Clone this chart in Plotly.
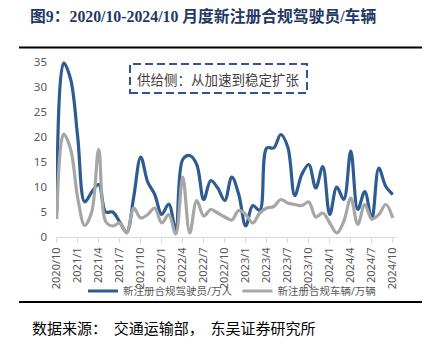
import plotly.graph_objects as go

# Month labels (2020/10 .. 2024/10), 49 months
months = []
y, m = 2020, 10
for _ in range(49):
    months.append(f"{y}/{m}")
    m += 1
    if m > 12:
        m = 1
        y += 1

drivers = [5, 34.8, 31.5, 20, 7, 9, 10.5, 5, 5, 3,
           1, 8, 16, 11, 8.5, 4.5, 6.6, 1.5, 15.5, 16.3,
           14.5, 7.5, 11.3, 9.8, 7.3, 12, 8.5, 2.2, 6.3, 5.3,
           17.8, 17.8, 20.5, 18, 8.3, 12.5, 14.5, 9.8, 14.1, 4.5,
           10, 7.5, 17.2, 5.5, 9.1, 3.6, 13.8, 10.1, 8.5]
vehicles = [3.6, 20.6, 17.5, 7.8, 2.3, 5, 17.5, 3.1, 2.2, 2.8,
            0.8, 5.8, 3.8, 4.5, 5.8, 2.8, 4.5, 0.6, 12, 0.8,
            7.3, 4.2, 5.5, 4.8, 4, 3.4, 5.3, 4.5, 2.8, 4.8,
            5.8, 6.1, 7.5, 6.8, 6.5, 6.3, 7, 4, 4.8, 2.8,
            0.8, 3.1, 7.8, 2.5, 6.5, 3.6, 4.5, 6.5, 3.8]

tick_idx = list(range(0, 49, 3))
tick_text = [months[i] for i in tick_idx]
y_ticks = [0, 5, 10, 15, 20, 25, 30, 35]

name_drivers = "新注册合规驾驶员/万人"
name_vehicles = "新注册合规车辆/万辆"
title_text = "图9：2020/10-2024/10 月度新注册合规驾驶员/车辆"
box_text = "供给侧：从加速到稳定扩张"
source_text = "数据来源：  交通运输部，  东吴证券研究所"

W, H = 433, 344
L, R, T, B = 56, 36, 57, 107
pw = W - L - R
ph = H - T - B
y0_px = T + ph  # pixel of paper y=0


def px(xp):
    return (xp - L) / pw


def py(yp):
    return (y0_px - yp) / ph


x_idx = list(range(len(months)))

fig = go.Figure()
fig.add_trace(go.Scatter(
    x=x_idx, y=drivers, name=name_drivers, mode="lines",
    line=dict(color="#2E5B91", width=3.2, shape="spline", smoothing=1.0),
))
fig.add_trace(go.Scatter(
    x=x_idx, y=vehicles, name=name_vehicles, mode="lines",
    line=dict(color="#A6A6A6", width=3.2, shape="spline", smoothing=1.0),
))

font_main = "Noto Sans, Noto Sans CJK SC, sans-serif"

fig.update_layout(
    width=W, height=H,
    margin=dict(l=L, r=R, t=T, b=B, autoexpand=False),
    paper_bgcolor="white", plot_bgcolor="white",
    font=dict(family=font_main, color="#595959", size=11),
    title=dict(
        text="<b>" + title_text + "</b>",
        x=30 / W, xanchor="left", y=1 - 16 / H, yanchor="middle",
        xref="container", yref="container",
        font=dict(family="Liberation Serif, Noto Sans CJK SC, serif", size=15.8, color="#1F3864"),
    ),
    xaxis=dict(
        range=[-0.1, 48.6], tickmode="array", tickvals=tick_idx, ticktext=tick_text,
        tickangle=-90, showgrid=False, zeroline=False,
        showline=True, linecolor="#D9D9D9", linewidth=1,
        ticks="outside", ticklen=5, tickcolor="#D9D9D9",
        tickfont=dict(size=11, color="#595959", family=font_main),
    ),
    yaxis=dict(
        range=[0, 36], tickmode="array", tickvals=y_ticks,
        showgrid=False, zeroline=False, showline=False, ticks="",
        ticklabelstandoff=8,
        tickfont=dict(size=11.5, color="#595959", family=font_main),
    ),
    legend=dict(
        orientation="h", x=px(232), xanchor="center", y=py(291), yanchor="middle",
        font=dict(size=10.5, color="#595959", family=font_main),
        itemwidth=30, bgcolor="rgba(0,0,0,0)",
    ),
    showlegend=True,
)

# dashed annotation box
fig.add_shape(type="rect", xref="paper", yref="paper",
              x0=px(130), x1=px(307), y0=py(93), y1=py(64),
              line=dict(color="#2F5597", width=2, dash="8px,4px"),
              fillcolor="rgba(0,0,0,0)")
fig.add_annotation(xref="paper", yref="paper", x=px(218.5), y=py(78.5),
                   text=box_text, showarrow=False, xanchor="center", yanchor="middle",
                   font=dict(size=13.5, color="#404040", family="Noto Sans CJK SC, sans-serif"))

# rules under title and above source
fig.add_shape(type="line", xref="paper", yref="paper",
              x0=px(19), x1=px(422), y0=py(47.5), y1=py(47.5),
              line=dict(color="black", width=2))
fig.add_shape(type="line", xref="paper", yref="paper",
              x0=px(19), x1=px(422), y0=py(302), y1=py(302),
              line=dict(color="black", width=2))

fig.add_annotation(xref="paper", yref="paper", x=px(30), y=py(327),
                   text=source_text, showarrow=False, xanchor="left", yanchor="middle",
                   font=dict(size=15, color="#000000", family="Noto Sans CJK SC, serif"))

fig.write_html("out.html")
